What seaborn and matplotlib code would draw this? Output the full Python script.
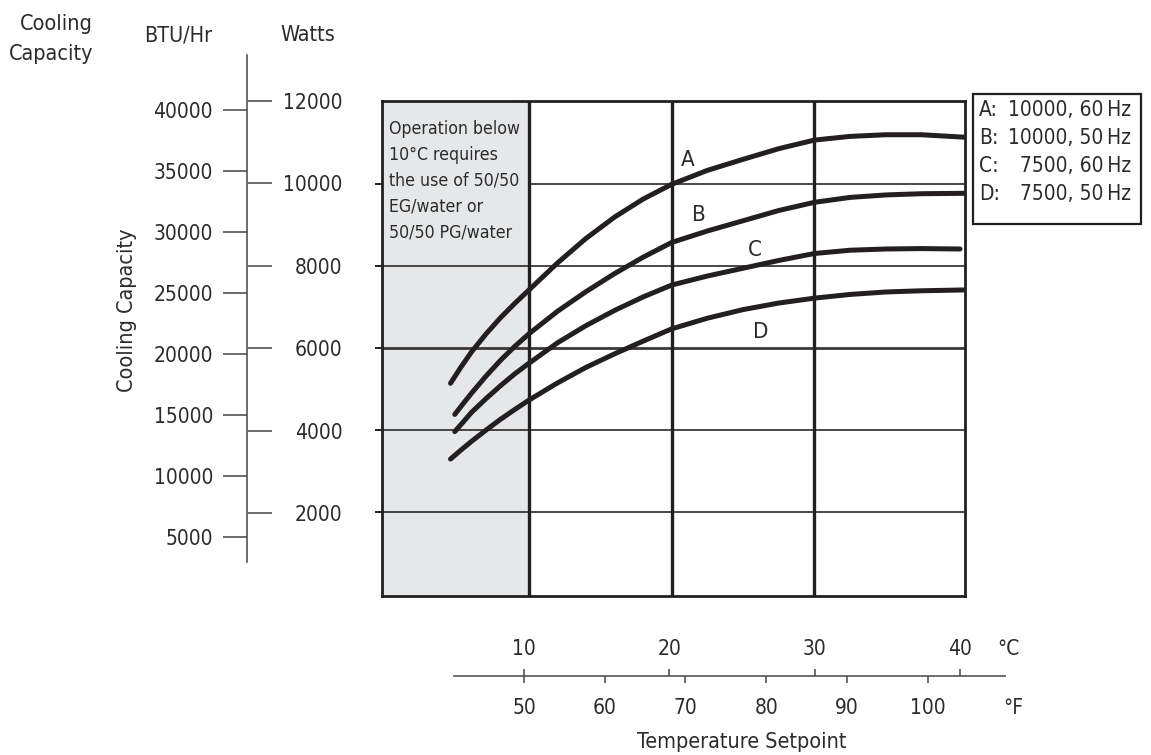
import matplotlib
matplotlib.use("Agg")
import matplotlib.pyplot as plt
from matplotlib.patches import Rectangle
import pandas as pd
import seaborn as sns

# curves: temperature setpoint (deg C) vs cooling capacity (W)
temp_a = [4.5, 5.2, 6, 7, 8, 9, 10, 12, 14, 16, 18, 20, 22.5, 25, 27.5, 30, 32.5, 35, 37.5, 40.5]
watts_a = [5140, 5520, 5920, 6350, 6740, 7090, 7420, 8080, 8680, 9200, 9640, 10000, 10340, 10610,
           10870, 11080, 11170, 11210, 11210, 11150]

temp_b = [4.8, 5.4, 6, 7, 8, 9, 10, 12, 14, 16, 18, 20, 22.5, 25, 27.5, 30, 32.5, 35, 37.5, 40.5]
watts_b = [4380, 4650, 4910, 5320, 5700, 6040, 6350, 6900, 7380, 7820, 8220, 8580, 8860, 9110,
           9360, 9560, 9680, 9740, 9770, 9780]

temp_c = [4.8, 5.4, 6, 7, 8, 9, 10, 12, 14, 16, 18, 20, 22.5, 25, 27.5, 30, 32.5, 35, 37.5, 40.2]
watts_c = [3960, 4200, 4440, 4770, 5080, 5370, 5630, 6130, 6550, 6920, 7250, 7540, 7760, 7950,
           8140, 8310, 8390, 8420, 8430, 8420]

temp_d = [4.5, 5.2, 6, 7, 8, 9, 10, 12, 14, 16, 18, 20, 22.5, 25, 27.5, 30, 32.5, 35, 37.5, 40.5]
watts_d = [3290, 3500, 3730, 4000, 4260, 4500, 4730, 5150, 5530, 5860, 6170, 6470, 6730, 6940,
           7100, 7220, 7310, 7370, 7400, 7420]

units = ["A", "B", "C", "D"]
unit_desc = ["10000, 60\u2009Hz", "10000, 50\u2009Hz", "7500, 60\u2009Hz", "7500, 50\u2009Hz"]
label_pos = [(21.1, 10640), (21.9, 9290), (25.8, 8440), (26.2, 6440)]

watts_ticks = [2000, 4000, 6000, 8000, 10000, 12000]
btu_ticks = [5000, 10000, 15000, 20000, 25000, 30000, 35000, 40000]
celsius_ticks = [10, 20, 30, 40]
fahrenheit_ticks = [50, 60, 70, 80, 90, 100]
grid_watts = [2000, 4000, 6000, 8000, 10000]
grid_celsius = [10, 20, 30]

note_lines = ["Operation below", "10\u00b0C requires", "the use of 50/50",
              "EG/water or", "50/50 PG/water"]

df = pd.concat([
    pd.DataFrame({"temp": t, "watts": w, "unit": u})
    for t, w, u in zip([temp_a, temp_b, temp_c, temp_d],
                       [watts_a, watts_b, watts_c, watts_d], units)
])

sns.set_theme(style="white")
plt.rcParams["font.family"] = ["DejaVu Sans"]
plt.rcParams["font.stretch"] = "condensed"
ink = "#231f20"
txt = "#2b2b2b"
fs = 15        # tick labels
fs_title = 15.5

W, H = 1151, 755


def fx(x):
    return x / W


def fy(y):
    return 1 - y / H


fig = plt.figure(figsize=(W / 100, H / 100), dpi=100)

# main plot
x0, x1 = -0.30, 40.55
ax = fig.add_axes([fx(382), fy(596), (965 - 382) / W, (596 - 101) / H])
ax.set_xlim(x0, x1)
ax.set_ylim(-54, 12034)
ax.axvspan(x0, 10, color="#e6e7e8", lw=0, zorder=0)
for w in grid_watts:
    start = 10 if w == 10000 else x0
    ax.hlines(w, start, x1, color="#3a3838", lw=2.0 if w == 6000 else 1.3, zorder=1)
for c in grid_celsius:
    ax.axvline(c, color=ink, lw=2.4, zorder=2)

sns.lineplot(data=df, x="temp", y="watts", units="unit", estimator=None,
             sort=False, color=ink, lw=3.6, ax=ax, zorder=3)
for u, (lx, ly) in zip(units, label_pos):
    ax.text(lx, ly, u, fontsize=16, color=txt, ha="center", va="center_baseline")

ax.set_xlabel("")
ax.set_ylabel("")
ax.set_xticks([])
ax.set_yticks(grid_watts)
ax.tick_params(axis="y", left=True, direction="out", length=5, width=1.4,
               color=ink, labelleft=False)
for s in ax.spines.values():
    s.set_visible(True)
    s.set_linewidth(2.0)
    s.set_color(ink)

for i, line in enumerate(note_lines):
    fig.text(fx(389), fy(127.5 + i * 25.7), line, fontsize=12.7, color=txt,
             ha="left", va="center_baseline")

# left scale: Watts on the right of the line, BTU/Hr on the left
scale_rect = [fx(247), fy(562), 1 / W, (562 - 55) / H]
ax_w = fig.add_axes(scale_rect)
ax_w.set_ylim(817, 13113)
ax_w.set_xticks([])
ax_w.yaxis.tick_right()
ax_w.set_yticks(watts_ticks)
ax_w.tick_params(axis="y", right=True, left=False, direction="out", length=17.3,
                 width=1.1, color="#444", labelsize=fs, labelcolor=txt, pad=50.9)
for lab in ax_w.get_yticklabels():
    lab.set_horizontalalignment("right")
for name, s in ax_w.spines.items():
    s.set_visible(name == "left")
ax_w.spines["left"].set_color("#444")
ax_w.spines["left"].set_linewidth(1.1)

ax_b = fig.add_axes(scale_rect)
ax_b.patch.set_visible(False)
ax_b.set_ylim(2975, 44533)
ax_b.set_xticks([])
ax_b.set_yticks(btu_ticks)
ax_b.tick_params(axis="y", left=True, direction="out", length=17.3, width=1.1,
                 color="#444", labelsize=fs, labelcolor=txt, pad=7.2)
for s in ax_b.spines.values():
    s.set_visible(False)

fig.text(fx(93), fy(21.7), "Cooling", fontsize=fs_title, color=txt, ha="right", va="center_baseline")
fig.text(fx(93), fy(51.7), "Capacity", fontsize=fs_title, color=txt, ha="right", va="center_baseline")
fig.text(fx(178), fy(33.3), "BTU/Hr", fontsize=fs_title, color=txt, ha="center", va="center_baseline")
fig.text(fx(308), fy(33.3), "Watts", fontsize=fs_title, color=txt, ha="center", va="center_baseline")
fig.text(fx(127), fy(310), "Cooling Capacity", fontsize=fs_title, color=txt, rotation=90,
         ha="center", va="center")

# bottom scale: deg C above the line, deg F below
ax_t = fig.add_axes([fx(454), fy(676), (1005 - 454) / W, 1e-4])
ax_t.patch.set_visible(False)
ax_t.set_xlim(5.18, 43.10)
ax_t.set_yticks([])
ax_t.xaxis.tick_top()
ax_t.set_xticks(celsius_ticks)
ax_t.tick_params(axis="x", top=True, bottom=False, labeltop=True, labelbottom=False,
                 direction="out", length=5, width=1.1, color="#444",
                 labelsize=fs, labelcolor=txt, pad=7.5)
for s in ax_t.spines.values():
    s.set_visible(False)

sec = ax_t.secondary_xaxis("bottom", functions=(lambda c: c * 9 / 5 + 32,
                                               lambda f: (f - 32) * 5 / 9))
sec.set_xticks(fahrenheit_ticks)
sec.tick_params(axis="x", direction="out", length=5, width=1.1, color="#444",
                labelsize=fs, labelcolor=txt, pad=11)
sec.spines["bottom"].set_color("#555")
sec.spines["bottom"].set_linewidth(1.2)

fig.text(fx(1008), fy(647), "\u00b0C", fontsize=fs, color=txt, ha="center", va="center_baseline")
fig.text(fx(1013), fy(706), "\u00b0F", fontsize=fs, color=txt, ha="center", va="center_baseline")
fig.text(fx(742), fy(740), "Temperature Setpoint", fontsize=fs_title, color=txt,
         ha="center", va="center_baseline")

# legend box
fig.add_artist(Rectangle((fx(973.3), fy(224.3)), (1140.7 - 973.3) / W, (224.3 - 94) / H,
                         transform=fig.transFigure, facecolor="white", edgecolor=ink, lw=1.6))
for i, (u, d) in enumerate(zip(units, unit_desc)):
    y = 108.3 + i * 27.8
    fig.text(fx(979), fy(y), f"{u}:", fontsize=15, color=txt, ha="left", va="center_baseline")
    fig.text(fx(1131), fy(y), d, fontsize=15, color=txt, ha="right", va="center_baseline")

fig.savefig("out.png", dpi=100)
